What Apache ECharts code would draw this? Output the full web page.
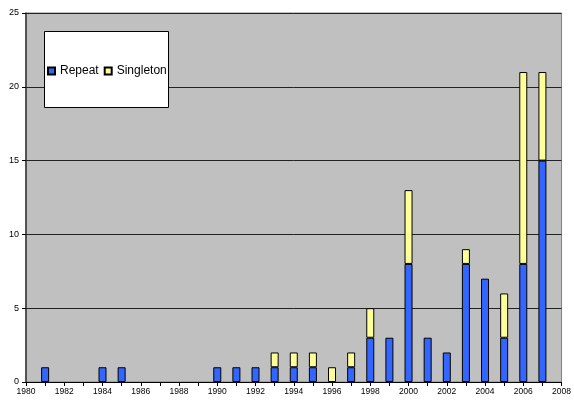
<!DOCTYPE html>
<html><head><meta charset="utf-8">
<script src="https://cdn.jsdelivr.net/npm/echarts@6/dist/echarts.min.js"></script>
<style>html,body{margin:0;padding:0;background:#fff}#c{width:574px;height:401px}</style>
</head><body><div id="c"></div>
<script>
const categories = ['1980','1981','1982','1983','1984','1985','1986','1987','1988','1989','1990','1991','1992','1993','1994','1995','1996','1997','1998','1999','2000','2001','2002','2003','2004','2005','2006','2007','2008'];
const years     = [1981,1984,1985,1990,1991,1992,1993,1994,1995,1996,1997,1998,1999,2000,2001,2002,2003,2004,2005,2006,2007];
const repeat    = [1,   1,   1,   1,   1,   1,   1,   1,   1,   0,   1,   3,   3,   8,   3,   2,   8,   7,   3,   8,   15];
const singleton = [0,   0,   0,   0,   0,   0,   1,   1,   1,   1,   1,   2,   0,   5,   0,   0,   1,   0,   3,   13,  6];
const seriesNames = ['Repeat','Singleton'];
const yTicks = [0,5,10,15,20,25];

const toSeries = arr => categories.map(c => {
  const i = years.indexOf(Number(c));
  return (i < 0 || arr[i] === 0) ? '-' : arr[i];
});
const font = 'Liberation Sans, Arial, sans-serif';
const chart = echarts.init(document.getElementById('c'), null, {renderer:'canvas'});
chart.setOption({
  animation:false,
  backgroundColor:'#fff',
  grid:{left:26,right:8,top:13,bottom:19,show:true,backgroundColor:'#C0C0C0',borderColor:'#808080',borderWidth:1},
  xAxis:{type:'category',data:categories,boundaryGap:false,
    axisLine:{show:true,lineStyle:{color:'#000',width:1}},
    axisTick:{show:true,interval:0,length:4,lineStyle:{color:'#000'}},
    axisLabel:{fontFamily:font,fontSize:8.5,color:'#000',margin:5,interval:1},
    splitLine:{show:false}},
  yAxis:{type:'value',min:yTicks[0],max:yTicks[yTicks.length-1],interval:5,
    axisLine:{show:true,lineStyle:{color:'#333',width:1.5}},
    axisTick:{show:true,length:4,lineStyle:{color:'#000'}},
    axisLabel:{fontFamily:font,fontSize:9,color:'#000',margin:7},
    splitLine:{show:true,lineStyle:{color:'#222',width:1}}},
  legend:{left:47,top:65,padding:0,itemWidth:7,itemHeight:7,itemGap:5,z:10,
    textStyle:{fontFamily:font,fontSize:12,color:'#000'},
    data:[{name:'Repeat',icon:'rect'},{name:'Singleton',icon:'rect'}]},
  graphic:[{type:'rect',left:44,top:31,z:5,shape:{width:124,height:76},style:{fill:'#fff',stroke:'#000',lineWidth:1}}],
  series:[
    {name:seriesNames[0],type:'bar',stack:'s',barWidth:8,data:toSeries(repeat),
      itemStyle:{color:'#3366FF',borderColor:'#000',borderWidth:1}},
    {name:seriesNames[1],type:'bar',stack:'s',barWidth:8,data:toSeries(singleton),
      itemStyle:{color:'#FFFF99',borderColor:'#000',borderWidth:1}}
  ]
});
</script></body></html>
